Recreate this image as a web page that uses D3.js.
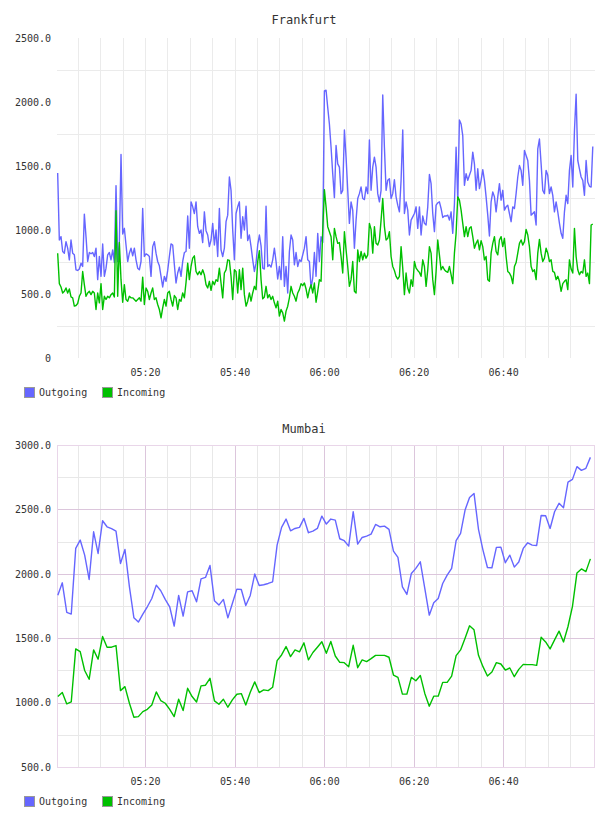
<!DOCTYPE html>
<html>
<head>
<meta charset="utf-8">
<script src="https://cdn.jsdelivr.net/npm/d3@7"></script>
<style>
body { margin: 0; background: #fff; }
svg text { font-family: "DejaVu Sans Mono", monospace; fill: #333; }
</style>
</head>
<body>
<script>
// ---- data ----
var seriesNames = ["Outgoing", "Incoming"];
var seriesColors = ["#6666ff", "#00c000"];

var timeDomain = [new Date(2013, 5, 1, 5, 0, 19), new Date(2013, 5, 1, 7, 0, 32)];

// Frankfurt, sampled every ~22s
var frankfurtStart = new Date(2013, 5, 1, 5, 0, 28), frankfurtStep = 22.35;
var frankfurtOut = [
	1445, 922, 948, 832, 819, 909, 858, 767, 922, 819,
	806, 689, 684, 695, 741, 715, 1124, 948, 754, 824,
	814, 824, 793, 858, 612, 793, 638, 891, 638, 702,
	806, 824, 767, 845, 746, 1347, 754, 902, 1590, 969,
	1013, 883, 754, 819, 858, 798, 858, 767, 702, 689,
	754, 1168, 793, 814, 806, 793, 638, 870, 909, 819,
	754, 720, 638, 555, 638, 599, 684, 793, 891, 883,
	728, 586, 664, 710, 638, 754, 824, 832, 1109, 858,
	1220, 1181, 1129, 1220, 1026, 974, 1000, 902, 1142, 995,
	961, 870, 922, 1052, 883, 1000, 793, 1168, 845, 793,
	858, 1065, 1116, 1414, 1310, 1000, 767, 1129, 1181, 1220,
	935, 1103, 1000, 1186, 917, 961, 870, 767, 676, 741,
	883, 961, 876, 702, 695, 1186, 715, 728, 710, 767,
	858, 754, 617, 715, 612, 948, 560, 715, 508, 832,
	961, 922, 728, 824, 715, 767, 754, 806, 858, 948,
	767, 754, 547, 625, 824, 638, 974, 754, 948, 902,
	2086,
	2092, 1957, 1828, 1647, 1440, 1253, 1660, 1517, 1491, 1284,
	1310, 1781, 1569, 1310, 1052, 1220, 1155, 858, 1077, 1246,
	1284, 1336, 1246, 1238, 1336, 1284, 1703, 1310, 1491, 1569,
	1491, 1284, 1220, 1310, 2055, 1647, 1310, 1388, 1401, 1246,
	1284, 1393, 1259, 1194, 1142, 1388, 1781, 1129, 1220, 1155,
	961, 1077, 1103, 1129, 1181, 1013, 1181, 961, 1109, 1052,
	1039, 1181, 1434, 1362, 1129, 987, 1194, 1212, 1220, 1168,
	1098, 1109, 1109, 1116, 1077, 1142, 974, 1202, 1647, 1233,
	1859, 1828, 1737, 1349, 1440, 1388, 1427, 1466, 1608, 1517,
	1310, 1478, 1323, 1388, 1471, 1388, 1259, 1116, 953, 1220,
	1297, 1259, 1142, 1259, 1362, 1233, 1310, 1155, 1181, 1194,
	1129, 1065, 1181, 1168, 1284, 1414, 1504, 1466, 1349, 1621,
	1582, 1543, 1388, 1116, 1129, 1142, 1039, 1634, 1711, 1517,
	1310, 1284, 1466, 1427, 1284, 1336, 1271, 1142, 1220, 1142,
	1052, 974, 935, 1142, 1271, 1207, 1466, 1582, 1336, 1776,
	2060, 1543, 1478, 1414, 1388, 1271, 1543, 1375, 1341, 1336,
	1652
];
var frankfurtIn = [
	819, 581, 555, 508, 521, 547, 508, 539, 477, 470,
	405, 410, 426, 482, 508, 676, 573, 482, 508, 521,
	495, 521, 508, 379, 508, 431, 581, 379, 482, 457,
	482, 470, 495, 508, 477, 1150, 482, 902, 612, 436,
	573, 457, 444, 482, 470, 470, 457, 444, 457, 470,
	444, 632, 418, 547, 521, 457, 508, 547, 457, 470,
	418, 379, 314, 392, 457, 405, 508, 521, 457, 405,
	488, 470, 379, 457, 444, 508, 470, 591, 741, 612,
	715, 780, 798, 676, 651, 676, 651, 689, 651, 573,
	547, 599, 529, 599, 573, 612, 599, 702, 586, 470,
	664, 689, 767, 762, 638, 457, 689, 676, 508, 689,
	534, 702, 495, 405, 444, 508, 444, 508, 560, 534,
	754, 839, 612, 462, 477, 560, 470, 495, 457, 482,
	431, 392, 444, 327, 379, 353, 288, 366, 405, 470,
	560, 508, 482, 444, 508, 534, 581, 565, 586, 539,
	470, 534, 573, 508, 586, 436, 521, 612, 599, 1000,
	1315,
	1181, 1026, 987, 948, 767, 1013, 948, 896, 902, 793,
	664, 987, 845, 715, 560, 612, 754, 521, 508, 845,
	754, 832, 767, 819, 780, 806, 1052, 1005, 819, 1026,
	896, 883, 922, 1077, 1246, 1026, 922, 935, 987, 793,
	715, 684, 638, 617, 638, 870, 702, 495, 664, 547,
	508, 612, 560, 754, 702, 684, 669, 638, 767, 715,
	560, 689, 870, 819, 612, 495, 676, 922, 806, 689,
	715, 689, 676, 669, 715, 651, 581, 819, 974, 1259,
	1233, 1155, 1052, 948, 1026, 948, 1013, 1026, 948, 858,
	896, 922, 845, 917, 870, 767, 793, 612, 599, 819,
	896, 948, 832, 806, 922, 948, 870, 935, 793, 676,
	664, 638, 581, 715, 746, 819, 896, 922, 883, 909,
	1005, 961, 870, 715, 676, 689, 612, 819, 927, 819,
	754, 780, 858, 819, 754, 767, 676, 669, 612, 638,
	599, 521, 581, 599, 612, 534, 767, 695, 664, 1013,
	793, 689, 651, 676, 664, 767, 638, 664, 581, 1039,
	1046
];

// Mumbai, one value a minute
var mumbaiStart = new Date(2013, 5, 1, 5, 0, 30), mumbaiStep = 60;
var mumbaiOut = [
	1834, 1930, 1700, 1687, 2197, 2262, 2145, 1956, 2326, 2158,
	2412, 2365, 2350, 2332, 2080, 2189, 1899, 1658, 1625, 1687,
	1744, 1808, 1912, 1868, 1801, 1744, 1594, 1832, 1671, 1860,
	1868, 1783, 1961, 1972, 2065, 1790, 1757, 1801, 1658, 1770,
	1881, 1878, 1754, 1832, 1998, 1909, 1915, 1925, 1938, 2223,
	2360, 2425, 2334, 2352, 2360, 2430, 2319, 2332, 2352, 2448,
	2386, 2425, 2417, 2272, 2257, 2215, 2482, 2231, 2282, 2293,
	2308, 2383, 2365, 2370, 2345, 2176, 2127, 1899, 1840, 2003,
	2042, 2093, 1886, 1679, 1775, 1808, 1925, 1990, 2042, 2257,
	2314, 2495, 2593, 2624, 2345, 2184, 2049, 2047, 2205, 2207,
	2086, 2145, 2052, 2091, 2197, 2241, 2223, 2220, 2453, 2451,
	2352, 2482, 2547, 2513, 2712, 2733, 2832, 2803, 2819, 2904
];
var mumbaiIn = [
	1047, 1078, 990, 1005, 1417, 1396, 1249, 1181, 1409, 1337,
	1513, 1430, 1430, 1443, 1093, 1124, 995, 886, 891, 930,
	948, 982, 1083, 1016, 995, 948, 891, 1026, 938, 1111,
	1047, 1005, 1130, 1135, 1189, 1013, 987, 1026, 964, 1021,
	1065, 1070, 982, 1080, 1161, 1078, 1099, 1093, 1119, 1326,
	1370, 1435, 1357, 1409, 1394, 1464, 1332, 1389, 1430, 1472,
	1383, 1475, 1362, 1313, 1310, 1279, 1445, 1271, 1331, 1318,
	1341, 1367, 1367, 1367, 1352, 1214, 1196, 1066, 1066, 1196,
	1170, 1211, 1071, 972, 1050, 1050, 1157, 1157, 1206, 1365,
	1409, 1500, 1596, 1565, 1367, 1279, 1206, 1237, 1310, 1300,
	1253, 1269, 1201, 1258, 1297, 1295, 1295, 1289, 1508, 1471,
	1417, 1487, 1555, 1471, 1591, 1747, 2007, 2038, 2017, 2116
];

// ---- layout ----
var width = 608, height = 816;
var plotLeft = 57, plotRight = 595;

var svg = d3.select('body')
	.append('svg')
	.attr('width', width)
	.attr('height', height);

var timeFmt = d3.timeFormat("%H:%M");

function toPoints(values, start, step) {
	return values.map(function(v, i) {
		return { t: new Date(+start + i * step * 1000), v: v };
	});
}

function drawChart(cfg) {
	var g = svg.append('g').attr('class', 'chart');

	var x = d3.scaleTime()
		.domain(timeDomain)
		.range([plotLeft, plotRight]);

	var y = d3.scaleLinear()
		.domain(cfg.yDomain)
		.range([cfg.bottom, cfg.top]);

	// title
	g.append('text')
		.attr('x', width / 2)
		.attr('y', cfg.titleY)
		.attr('dy', '.35em')
		.attr('text-anchor', 'middle')
		.style('font-size', '12px')
		.text(cfg.title);

	// grid
	var grid = g.append('g').attr('class', 'grid');
	var fiveMin = x.ticks(d3.timeMinute.every(5)).filter(function(d) { return x(d) < plotRight - 4; });
	var yGrid = d3.range(cfg.yDomain[0], cfg.yDomain[1] + 1, 250);

	grid.selectAll('.vgrid')
		.data(fiveMin)
		.enter().append('line')
		.attr('x1', function(d) { return Math.round(x(d)) + 0.5; })
		.attr('x2', function(d) { return Math.round(x(d)) + 0.5; })
		.attr('y1', cfg.top)
		.attr('y2', cfg.bottom)
		.attr('stroke', function(d) {
			return (cfg.boxed && d.getMinutes() % 20 == 0) ? cfg.majorColor : cfg.minorColor;
		});

	grid.selectAll('.hgrid')
		.data(yGrid.filter(function(d) {
			if (d == cfg.yDomain[0] || d == cfg.yDomain[1]) return false;
			return cfg.boxed || d % 500 != 0;
		}))
		.enter().append('line')
		.attr('x1', plotLeft)
		.attr('x2', plotRight)
		.attr('y1', function(d) { return Math.round(y(d)) + 0.5; })
		.attr('y2', function(d) { return Math.round(y(d)) + 0.5; })
		.attr('stroke', function(d) { return d % 500 == 0 ? cfg.majorColor : cfg.minorColor; });

	if (cfg.boxed) {
		grid.append('rect')
			.attr('x', plotLeft + 0.5)
			.attr('y', Math.round(cfg.top) + 0.5)
			.attr('width', plotRight - plotLeft - 1)
			.attr('height', cfg.bottom - cfg.top)
			.attr('fill', 'none')
			.attr('stroke', cfg.borderColor);
	}

	// lines
	var line = d3.line()
		.x(function(d) { return x(d.t); })
		.y(function(d) { return y(d.v); });

	cfg.series.forEach(function(s, i) {
		g.append('path')
			.datum(toPoints(s, cfg.start, cfg.step))
			.attr('fill', 'none')
			.attr('stroke', seriesColors[i])
			.attr('stroke-width', 1.4)
			.attr('stroke-linejoin', 'round')
			.attr('d', line);
	});

	// axes
	var yAxis = d3.axisLeft(y)
		.tickValues(d3.range(cfg.yDomain[0], cfg.yDomain[1] + 1, 500))
		.tickFormat(function(d) { return d == 0 ? "0" : d3.format(".1f")(d); })
		.tickSize(0)
		.tickPadding(6);

	var ya = g.append('g')
		.attr('transform', 'translate(' + plotLeft + ',0)')
		.call(yAxis);

	var xAxis = d3.axisBottom(x)
		.tickValues(x.ticks(d3.timeMinute.every(20)).filter(function(d) { return x(d) < plotRight - 10; }))
		.tickFormat(timeFmt)
		.tickSize(0)
		.tickPadding(11);

	var xa = g.append('g')
		.attr('transform', 'translate(0,' + cfg.bottom + ')')
		.call(xAxis);

	[ya, xa].forEach(function(a) {
		a.select('.domain').remove();
		a.attr('font-family', null).attr('font-size', null);
		a.selectAll('text').style('font-size', '10px').attr('fill', '#333');
	});

	// legend
	var legend = g.selectAll('.legend')
		.data(seriesNames)
		.enter().append('g')
		.attr('class', 'legend')
		.attr('transform', function(d, i) { return 'translate(' + [24, 102][i] + ',' + (cfg.bottom + 34) + ')'; });

	legend.append('rect')
		.attr('x', 0.5)
		.attr('y', -4.5)
		.attr('width', 10)
		.attr('height', 10)
		.attr('fill', function(d, i) { return seriesColors[i]; })
		.attr('stroke', '#999');

	legend.append('text')
		.attr('x', 15)
		.attr('y', 0)
		.attr('dy', '.35em')
		.style('font-size', '10px')
		.text(function(d) { return d; });
}

drawChart({
	title: "Frankfurt",
	titleY: 20,
	top: 38,
	bottom: 358,
	yDomain: [0, 2500],
	series: [frankfurtOut, frankfurtIn],
	start: frankfurtStart,
	step: frankfurtStep,
	boxed: false,
	minorColor: "#ebebeb",
	majorColor: "#ebebeb"
});

drawChart({
	title: "Mumbai",
	titleY: 429,
	top: 445,
	bottom: 767,
	yDomain: [500, 3000],
	series: [mumbaiOut, mumbaiIn],
	start: mumbaiStart,
	step: mumbaiStep,
	boxed: true,
	minorColor: "#e8e8e8",
	majorColor: "#dcc6dc",
	borderColor: "#e9d6e9"
});
</script>
</body>
</html>
